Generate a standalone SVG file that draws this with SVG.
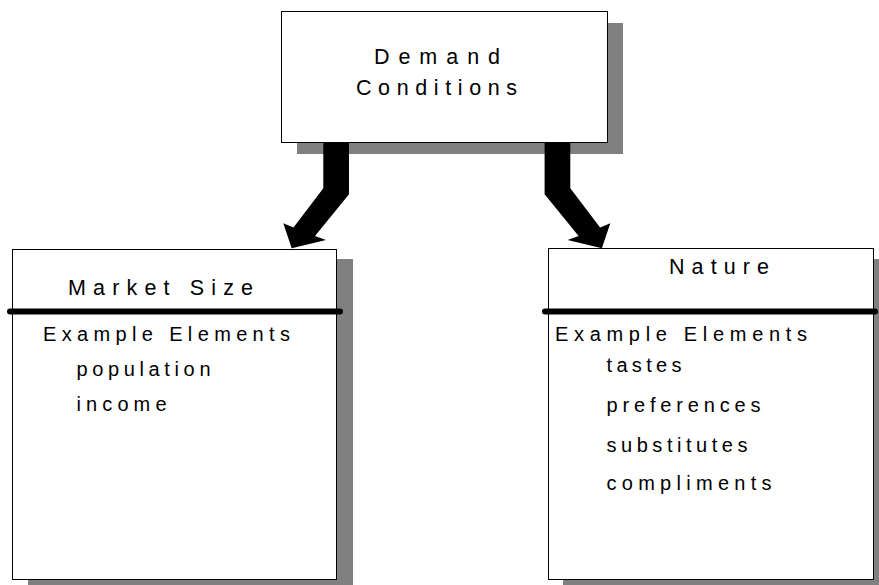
<svg xmlns="http://www.w3.org/2000/svg" width="879" height="585" viewBox="0 0 879 585">
  <style>
    .shadow { fill: #808080; }
    .box { fill: #ffffff; stroke: #000000; stroke-width: 1; }
    .rule { stroke: #000000; stroke-width: 6; stroke-linecap: round; }
    .title { font-family: "Liberation Sans", Arial, sans-serif; font-size: 21.5px; fill: #000000; }
    .body { font-family: "Liberation Sans", Arial, sans-serif; font-size: 20px; fill: #000000; }
    .arrow { fill: #000000; }
  </style>
  <rect width="879" height="585" fill="#ffffff"/>

  <!-- Demand Conditions -->
  <g id="demand-conditions">
    <rect class="shadow" x="297" y="23" width="326" height="131"/>
    <rect class="box" x="281.5" y="11.5" width="326" height="131"/>
    <text class="title" x="374" y="64" textLength="126" lengthAdjust="spacing">Demand</text>
    <text class="title" x="356" y="95" textLength="161" lengthAdjust="spacing">Conditions</text>
  </g>

  <!-- Market Size -->
  <g id="market-size">
    <rect class="shadow" x="28" y="259" width="325" height="340"/>
    <rect class="box" x="12.5" y="249.5" width="324" height="330"/>
    <text class="title" x="68" y="295" textLength="185" lengthAdjust="spacing">Market Size</text>
    <line class="rule" x1="10" y1="311.5" x2="340" y2="311.5"/>
    <text class="body" x="43" y="340.5" textLength="247" lengthAdjust="spacing">Example Elements</text>
    <text class="body" x="76.5" y="376" textLength="134" lengthAdjust="spacing">population</text>
    <text class="body" x="76.5" y="410.5" textLength="90" lengthAdjust="spacing">income</text>
  </g>

  <!-- Nature -->
  <g id="nature">
    <rect class="shadow" x="563" y="259" width="325" height="340"/>
    <rect class="box" x="548.5" y="248.5" width="325" height="331"/>
    <text class="title" x="669" y="273.5" textLength="100" lengthAdjust="spacing">Nature</text>
    <line class="rule" x1="545" y1="311.5" x2="875" y2="311.5"/>
    <text class="body" x="555" y="340.5" textLength="252" lengthAdjust="spacing">Example Elements</text>
    <text class="body" x="606.5" y="372" textLength="75" lengthAdjust="spacing">tastes</text>
    <text class="body" x="606.5" y="412" textLength="154" lengthAdjust="spacing">preferences</text>
    <text class="body" x="606.5" y="451.5" textLength="141" lengthAdjust="spacing">substitutes</text>
    <text class="body" x="606.5" y="490" textLength="165" lengthAdjust="spacing">compliments</text>
  </g>

  <!-- Connectors: bent block arrows -->
  <g id="connectors">
    <defs>
      <polygon id="bent-arrow" points="323.3,143 349,143 349,194.3 315,236 326,240 291.7,248.3 283.3,223.3 293.5,227.5 323.3,188.3"/>
    </defs>
    <use href="#bent-arrow" class="arrow"/>
    <use href="#bent-arrow" class="arrow" transform="translate(893.6,0) scale(-1,1)"/>
  </g>
</svg>
